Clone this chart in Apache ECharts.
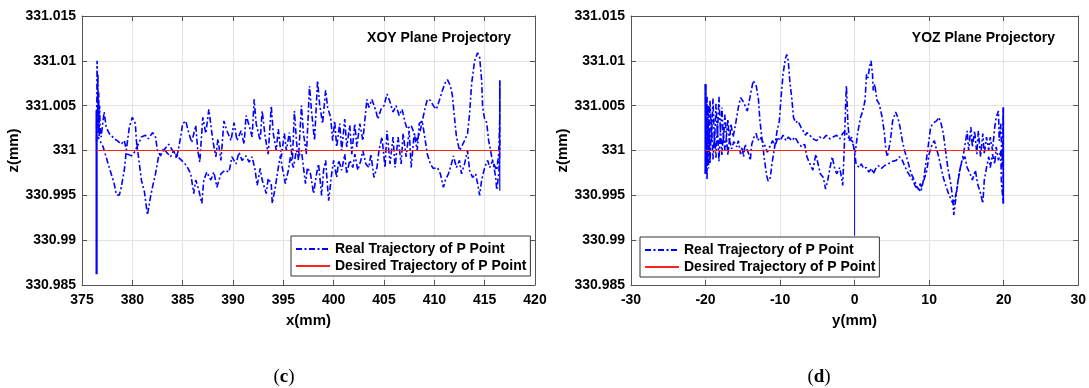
<!DOCTYPE html>
<html><head><meta charset="utf-8">
<script src="https://cdn.jsdelivr.net/npm/echarts@6/dist/echarts.min.js"></script>
<style>html,body{margin:0;padding:0;background:#fff}#c{width:1089px;height:388px}</style>
</head><body><div id="c"></div>
<script>
// ---------- DATA ----------
const realName = 'Real Trajectory of P Point';
const desiredName = 'Desired Trajectory of P Point';
const panelTitles = ['XOY Plane Projectory', 'YOZ Plane Projectory'];
const panelTags = ['c', 'd'];
const xNames = ['x(mm)', 'y(mm)'];
const zName = 'z(mm)';

// XOY: forward pass (upper band), x in mm, z in mm
const xoyRealA = [[376.45,331.0010],[376.50,331.0100],[376.55,331.0030],[376.58,331.0085],[376.62,331.0020],[376.66,331.0065],[376.70,331.0015],[376.75,331.0050],[376.80,331.0026],[376.90,331.0015],[377.20,331.0043],[377.40,331.0026],[377.70,331.0019],[377.90,331.0017],[378.20,331.0013],[378.50,331.0011],[378.90,331.0007],[379.20,331.0011],[379.50,330.9996],[379.90,330.9994],[380.20,330.9998],[380.60,331.0007],[380.90,331.0015],[381.30,331.0017],[381.60,331.0013],[382.00,331.0020],[382.30,331.0015],[382.50,331.0000],[382.80,330.9994],[383.10,331.0002],[383.40,330.9998],[383.80,330.9993],[384.10,331.0000],[384.40,330.9991],[384.80,331.0015],[385.00,331.0030],[385.30,331.0033],[385.60,331.0020],[385.90,331.0009],[386.30,331.0028],[386.50,331.0000],[386.70,330.9987],[387.00,331.0037],[387.30,331.0019],[387.60,331.0046],[388.00,331.0011],[388.30,330.9993],[388.50,331.0013],[388.80,330.9989],[389.10,331.0033],[389.40,331.0022],[389.80,331.0011],[390.10,331.0031],[390.40,331.0011],[390.80,331.0022],[391.10,331.0007],[391.30,331.0039],[391.60,331.0028],[391.90,331.0015],[392.10,331.0057],[392.30,331.0030],[392.70,331.0011],[392.90,331.0044],[393.20,331.0015],[393.50,330.9996],[393.80,331.0050],[394.00,331.0019],[394.30,331.0000],[394.50,331.0024],[394.80,330.9993],[395.10,331.0019],[395.30,331.0000],[395.60,331.0020],[395.90,330.9989],[396.10,331.0044],[396.30,331.0011],[396.50,330.9989],[396.80,331.0050],[397.00,331.0019],[397.30,330.9996],[397.60,331.0072],[397.80,331.0044],[398.10,331.0011],[398.40,331.0078],[398.60,331.0052],[398.90,331.0030],[399.20,331.0067],[399.40,331.0048],[399.70,331.0037],[399.90,331.0011],[400.10,331.0033],[400.30,331.0004],[400.60,331.0030],[400.80,331.0000],[401.10,331.0035],[401.30,331.0004],[401.60,331.0028],[401.80,330.9996],[402.10,331.0030],[402.30,331.0004],[402.60,331.0030],[402.90,331.0011],[403.30,331.0057],[403.50,331.0048],[403.80,331.0057],[404.20,331.0044],[404.40,331.0035],[404.70,331.0046],[405.00,331.0050],[405.30,331.0063],[405.60,331.0054],[405.90,331.0043],[406.20,331.0050],[406.50,331.0039],[406.80,331.0046],[407.10,331.0031],[407.30,331.0024],[407.70,331.0028],[408.00,331.0019],[408.30,331.0011],[408.60,331.0022],[408.80,331.0033],[409.10,331.0048],[409.30,331.0057],[409.60,331.0056],[409.90,331.0050],[410.20,331.0046],[410.50,331.0056],[410.80,331.0067],[411.10,331.0076],[411.30,331.0079],[411.60,331.0072],[411.80,331.0061],[412.00,331.0037],[412.20,331.0015],[412.50,331.0000],[412.70,331.0004],[413.00,331.0011],[413.30,331.0019],[413.50,331.0041],[413.70,331.0074],[414.00,331.0100],[414.30,331.0109],[414.50,331.0104],[414.70,331.0078],[414.80,331.0048],[415.00,331.0035],[415.20,331.0031],[415.40,331.0011],[415.70,330.9993],[415.90,330.9985],[416.20,330.9978],[416.40,330.9996],[416.50,331.0037],[416.50,331.0078]];
// XOY: return pass (lower band), listed left to right
const xoyRealB = [[376.60,331.0015],[377.10,331.0004],[377.60,330.9985],[377.90,330.9974],[378.20,330.9963],[378.40,330.9951],[378.70,330.9950],[378.90,330.9959],[379.20,330.9978],[379.40,331.0000],[379.70,331.0026],[380.00,331.0037],[380.30,331.0030],[380.40,331.0011],[380.70,330.9985],[380.90,330.9967],[381.20,330.9954],[381.50,330.9928],[381.80,330.9948],[382.00,330.9959],[382.30,330.9974],[382.60,330.9993],[383.10,331.0000],[383.60,331.0007],[384.00,331.0000],[384.40,330.9994],[384.90,330.9989],[385.40,330.9983],[385.80,330.9974],[386.10,330.9952],[386.30,330.9967],[386.60,330.9956],[386.90,330.9941],[387.10,330.9967],[387.40,330.9976],[387.80,330.9967],[388.10,330.9976],[388.40,330.9959],[388.80,330.9974],[389.20,330.9978],[389.60,330.9976],[389.90,330.9993],[390.30,330.9985],[390.60,330.9998],[390.90,330.9989],[391.30,330.9994],[391.60,330.9987],[391.90,330.9993],[392.20,330.9978],[392.40,330.9961],[392.70,330.9980],[392.90,330.9967],[393.30,330.9952],[393.50,330.9969],[393.80,330.9963],[393.90,330.9941],[394.20,330.9959],[394.50,330.9981],[394.70,330.9994],[394.90,330.9981],[395.20,330.9963],[395.50,330.9978],[395.70,330.9993],[396.00,330.9981],[396.30,331.0000],[396.50,330.9993],[396.80,331.0000],[397.00,330.9981],[397.20,330.9963],[397.40,330.9981],[397.70,330.9974],[398.00,330.9952],[398.30,330.9974],[398.50,330.9985],[398.80,330.9950],[399.00,330.9978],[399.20,330.9989],[399.50,330.9944],[399.80,330.9974],[400.00,330.9989],[400.30,330.9970],[400.50,330.9989],[400.80,330.9978],[401.10,330.9996],[401.30,330.9974],[401.60,330.9989],[401.90,330.9981],[402.10,330.9996],[402.40,330.9978],[402.70,330.9989],[402.90,331.0000],[403.20,330.9985],[403.50,330.9981],[403.70,330.9996],[404.00,330.9970],[404.30,330.9981],[404.50,331.0000],[404.80,331.0015],[405.10,330.9981],[405.30,331.0022],[405.60,330.9985],[405.90,331.0015],[406.10,330.9981],[406.40,331.0015],[406.70,330.9985],[406.90,331.0019],[407.20,330.9993],[407.50,331.0022],[407.70,330.9981],[408.00,331.0019],[408.30,331.0000],[408.50,331.0030],[408.80,331.0033],[409.10,331.0011],[409.30,330.9996],[409.60,330.9985],[409.90,330.9980],[410.30,330.9981],[410.60,330.9974],[410.90,330.9959],[411.10,330.9967],[411.40,330.9974],[411.70,330.9985],[411.90,330.9994],[412.20,330.9981],[412.50,330.9989],[412.70,330.9974],[413.00,330.9985],[413.30,331.0000],[413.50,330.9978],[413.80,330.9970],[414.10,330.9974],[414.30,330.9963],[414.50,330.9950],[414.70,330.9967],[415.00,330.9981],[415.30,330.9989],[415.50,330.9981],[415.80,330.9989],[416.10,330.9970],[416.20,330.9956],[416.40,330.9974],[416.50,331.0000]];
const xoySpikeStart = [[376.45,330.9862],[376.45,331.0045]];
const xoySpikeEnd = [[416.50,330.9955],[416.50,331.0078]];
const xoyDesired = [[376.45,331.0],[416.50,331.0]];

// YOZ: upper pass, y in mm, z in mm
const yozRealA = [[-20.0,331.0074],[-19.9,330.9980],[-19.8,331.0060],[-19.7,330.9990],[-19.6,331.0050],[-19.5,330.9995],[-19.4,331.0056],[-19.2,331.0010],[-19.0,331.0058],[-18.8,331.0005],[-18.6,331.0052],[-18.4,331.0015],[-18.2,331.0060],[-18.0,331.0020],[-17.8,331.0048],[-17.6,331.0010],[-17.4,331.0040],[-17.2,331.0015],[-17.0,331.0035],[-16.8,331.0008],[-16.6,331.0030],[-16.3,331.0015],[-16.0,331.0028],[-15.8,331.0030],[-15.6,331.0048],[-15.3,331.0059],[-14.9,331.0054],[-14.4,331.0044],[-14.0,331.0061],[-13.6,331.0078],[-13.2,331.0072],[-12.9,331.0057],[-12.7,331.0033],[-12.4,331.0011],[-12.1,330.9990],[-11.8,330.9972],[-11.6,330.9966],[-11.3,330.9970],[-11.1,330.9985],[-10.8,331.0000],[-10.4,331.0022],[-10.1,331.0033],[-9.9,331.0056],[-9.6,331.0085],[-9.3,331.0102],[-9.1,331.0107],[-8.9,331.0100],[-8.7,331.0078],[-8.4,331.0056],[-8.2,331.0037],[-7.9,331.0031],[-7.6,331.0033],[-7.2,331.0026],[-6.9,331.0022],[-6.6,331.0017],[-6.4,331.0020],[-6.0,331.0017],[-5.6,331.0013],[-5.1,331.0011],[-4.7,331.0015],[-4.2,331.0013],[-3.8,331.0017],[-3.3,331.0013],[-2.9,331.0015],[-2.4,331.0017],[-2.0,331.0013],[-1.6,331.0019],[-1.2,331.0022],[-0.9,331.0015],[-0.4,331.0011],[-0.1,331.0004],[0.1,330.9998],[0.4,331.0019],[0.8,331.0037],[1.1,331.0044],[1.4,331.0056],[1.6,331.0085],[1.8,331.0081],[2.0,331.0093],[2.2,331.0100],[2.4,331.0085],[2.5,331.0067],[2.7,331.0074],[3.0,331.0056],[3.3,331.0052],[3.7,331.0037],[4.0,331.0019],[4.2,331.0000],[4.4,330.9993],[4.8,331.0011],[5.1,331.0033],[5.5,331.0043],[5.8,331.0037],[6.1,331.0026],[6.4,331.0011],[6.7,331.0000],[7.1,330.9989],[7.6,330.9974],[8.0,330.9967],[8.4,330.9959],[8.9,330.9954],[9.3,330.9970],[9.8,331.0000],[10.2,331.0026],[10.6,331.0031],[11.0,331.0033],[11.3,331.0037],[11.6,331.0030],[11.9,331.0019],[12.2,331.0000],[12.5,330.9981],[12.9,330.9963],[13.2,330.9944],[13.3,330.9928],[13.6,330.9948],[13.9,330.9967],[14.2,330.9981],[14.6,330.9996],[14.9,331.0011],[15.1,331.0022],[15.3,331.0000],[15.6,331.0026],[15.8,331.0004],[16.1,331.0022],[16.4,330.9996],[16.6,331.0022],[16.9,330.9993],[17.2,331.0019],[17.4,330.9996],[17.7,331.0015],[18.0,331.0000],[18.2,331.0015],[18.5,331.0000],[18.8,331.0026],[19.0,331.0037],[19.3,331.0044],[19.4,331.0011],[19.6,331.0030],[19.8,330.9981],[19.95,331.0048]];
// YOZ: lower pass, listed left to right
const yozRealB = [[-20.0,330.9974],[-19.9,331.0020],[-19.8,330.9967],[-19.7,331.0030],[-19.6,330.9980],[-19.5,331.0025],[-19.4,330.9985],[-19.2,331.0035],[-19.0,330.9990],[-18.8,331.0020],[-18.6,330.9992],[-18.4,331.0030],[-18.2,330.9988],[-18.0,331.0025],[-17.8,330.9995],[-17.6,331.0020],[-17.4,331.0000],[-17.2,331.0015],[-17.0,330.9995],[-16.8,331.0012],[-16.5,331.0002],[-16.2,331.0010],[-15.8,331.0004],[-15.6,331.0011],[-15.3,330.9996],[-15.1,331.0004],[-14.9,330.9993],[-14.7,331.0007],[-14.4,330.9994],[-14.2,330.9996],[-14.0,330.9989],[-13.8,331.0007],[-13.5,331.0015],[-13.2,331.0019],[-13.0,331.0011],[-12.7,331.0015],[-12.4,331.0011],[-12.1,331.0007],[-11.7,330.9998],[-11.4,331.0004],[-11.0,331.0011],[-10.7,331.0004],[-10.3,331.0015],[-10.0,331.0011],[-9.6,331.0017],[-9.2,331.0011],[-8.9,331.0015],[-8.4,331.0011],[-8.0,331.0015],[-7.6,331.0009],[-7.1,331.0004],[-6.7,331.0007],[-6.4,330.9993],[-6.0,330.9985],[-5.6,330.9978],[-5.2,330.9996],[-4.9,330.9985],[-4.6,330.9974],[-4.2,330.9970],[-3.9,330.9957],[-3.6,330.9967],[-3.3,330.9981],[-3.0,330.9993],[-2.7,330.9981],[-2.4,330.9974],[-2.0,330.9981],[-1.7,330.9967],[-1.6,330.9961],[-1.4,331.0000],[-1.2,331.0052],[-1.1,331.0072],[-0.9,331.0030],[-0.7,331.0011],[-0.4,331.0015],[-0.2,331.0007],[0.0,330.9998],[0.2,330.9985],[0.6,330.9981],[0.9,330.9985],[1.2,330.9980],[1.6,330.9981],[1.9,330.9976],[2.3,330.9980],[2.5,330.9974],[2.9,330.9981],[3.2,330.9983],[3.6,330.9980],[4.0,330.9983],[4.3,330.9984],[4.7,330.9986],[5.1,330.9988],[5.6,330.9989],[6.0,330.9993],[6.4,330.9989],[6.7,330.9983],[7.1,330.9976],[7.4,330.9972],[7.8,330.9967],[8.1,330.9961],[8.5,330.9956],[8.8,330.9963],[9.0,330.9959],[9.3,330.9967],[9.7,330.9978],[10.0,330.9996],[10.4,331.0007],[10.7,331.0011],[10.9,331.0004],[11.2,330.9996],[11.6,330.9981],[11.9,330.9970],[12.3,330.9959],[12.6,330.9952],[13.0,330.9944],[13.3,330.9939],[13.7,330.9956],[14.0,330.9974],[14.4,330.9989],[14.8,330.9993],[15.1,330.9981],[15.5,330.9974],[15.8,330.9967],[16.2,330.9978],[16.5,330.9963],[16.9,330.9952],[17.2,330.9941],[17.4,330.9967],[17.7,330.9981],[18.0,330.9993],[18.2,330.9981],[18.5,330.9996],[18.8,330.9985],[19.0,331.0004],[19.3,330.9989],[19.6,331.0000],[19.7,330.9963],[19.95,330.9941]];
const yozSpikeStart = [[-20.0,330.9974],[-20.0,331.0074]];
const yozSpikeMid = [[0.0,330.9998],[0.0,330.9905]];
const yozSpikeEnd = [[19.95,330.9941],[19.95,331.0048]];
const yozDesired = [[-20.0,331.0],[19.0,331.0]];

// axis ranges / ticks
const zMin = 330.985, zMax = 331.015, zStep = 0.005;
const xoyMin = 375, xoyMax = 420, xoyStep = 5;
const yozMin = -30, yozMax = 30, yozStep = 10;

// ---------- CHART ----------
const FONT = "'Liberation Sans', Arial, sans-serif";
const BLUE = '#0000ff', RED = '#ff2020';
const FRAME = '#555555', GRIDC = '#e2e2e2';
const dashDot = [6, 2.5, 2, 2.5];

const grids = [
  { left: 82, top: 16, width: 453, height: 269 },
  { left: 631, top: 16, width: 448, height: 269 }
];

function mainX(gi, min, max, step, name) {
  return {
    type: 'value', gridIndex: gi, position: 'bottom', min, max, interval: step,
    name, nameLocation: 'middle', nameGap: 28,
    nameTextStyle: { fontFamily: FONT, fontWeight: 'bold', fontSize: 15, color: '#000' },
    axisLine: { show: true, onZero: false, lineStyle: { color: FRAME, width: 1 } },
    axisTick: { show: true, inside: true, length: 5, lineStyle: { color: FRAME } },
    axisLabel: { margin: 8, fontFamily: FONT, fontWeight: 'bold', fontSize: 14, color: '#000' },
    splitLine: { show: true, lineStyle: { color: GRIDC, width: 1 } }
  };
}
function topX(gi, min, max, step) {
  return {
    type: 'value', gridIndex: gi, position: 'top', min, max, interval: step,
    axisLine: { show: true, onZero: false, lineStyle: { color: FRAME, width: 1 } },
    axisTick: { show: true, inside: true, length: 5, lineStyle: { color: FRAME } },
    axisLabel: { show: false }, splitLine: { show: false }
  };
}
function mainY(gi) {
  return {
    type: 'value', gridIndex: gi, position: 'left', min: zMin, max: zMax, interval: zStep,
    name: zName, nameLocation: 'middle', nameGap: 56,
    nameTextStyle: { fontFamily: FONT, fontWeight: 'bold', fontSize: 15, color: '#000' },
    axisLine: { show: true, onZero: false, lineStyle: { color: FRAME, width: 1 } },
    axisTick: { show: true, inside: true, length: 5, lineStyle: { color: FRAME } },
    axisLabel: { margin: 6, fontFamily: FONT, fontWeight: 'bold', fontSize: 14, color: '#000',
      formatter: v => String(parseFloat(v.toFixed(3))) },
    splitLine: { show: true, lineStyle: { color: GRIDC, width: 1 } }
  };
}
function rightY(gi) {
  return {
    type: 'value', gridIndex: gi, position: 'right', min: zMin, max: zMax, interval: zStep,
    axisLine: { show: true, onZero: false, lineStyle: { color: FRAME, width: 1 } },
    axisTick: { show: true, inside: true, length: 5, lineStyle: { color: FRAME } },
    axisLabel: { show: false }, splitLine: { show: false }
  };
}
function line(name, data, xi, yi, color, type, width, z) {
  return { type: 'line', name, data, xAxisIndex: xi, yAxisIndex: yi, symbol: 'none', showSymbol: false,
    animation: false, z: z || 2, clip: true,
    lineStyle: { color, width, type }, itemStyle: { color } };
}

const legendCommon = {
  orient: 'vertical',
  data: [realName, desiredName],
  itemWidth: 34, itemHeight: 14, itemGap: 3,
  padding: [6, 4, 3, 4],
  itemStyle: { opacity: 0, borderWidth: 0 },
  borderColor: '#333', borderWidth: 1, backgroundColor: '#fff',
  textStyle: { fontFamily: FONT, fontWeight: 'bold', fontSize: 14, color: '#000' },
  selectedMode: false
};

const option = {
  backgroundColor: '#fff',
  animation: false,
  grid: grids,
  xAxis: [mainX(0, xoyMin, xoyMax, xoyStep, xNames[0]), topX(0, xoyMin, xoyMax, xoyStep),
          mainX(1, yozMin, yozMax, yozStep, xNames[1]), topX(1, yozMin, yozMax, yozStep)],
  yAxis: [mainY(0), rightY(0), mainY(1), rightY(1)],
  title: [
    { text: panelTitles[0], right: 578, top: 31, textStyle: { fontFamily: FONT, fontWeight: 'bold', fontSize: 14, color: '#000' }, padding: 0 },
    { text: panelTitles[1], right: 34, top: 31, textStyle: { fontFamily: FONT, fontWeight: 'bold', fontSize: 14, color: '#000' }, padding: 0 }
  ],
  legend: [
    Object.assign({ left: 291, top: 236 }, legendCommon),
    Object.assign({ left: 640, top: 237 }, legendCommon)
  ],
  graphic: panelTags.map((t, i) => ({
    type: 'text', x: [284, 819][i], y: 377,
    style: { text: '{p|(}{b|' + t + '}{p|)}', textAlign: 'center', textVerticalAlign: 'middle',
      rich: { p: { fontFamily: "'Liberation Serif', serif", fontSize: 19, fill: '#000' },
              b: { fontFamily: "'Liberation Serif', serif", fontSize: 19, fontWeight: 'bold', fill: '#000' } } }
  })),
  series: [
    line(realName, xoyRealA.concat(xoyRealB.slice().reverse()), 0, 0, BLUE, dashDot, 1.6),
    line(realName, xoySpikeStart, 0, 0, BLUE, 'solid', 2.2),
    line(realName, xoySpikeEnd, 0, 0, BLUE, 'solid', 1.2),
    line(desiredName, xoyDesired, 0, 0, RED, 'solid', 1.2, 3),
    line(realName, yozRealA.concat(yozRealB.slice().reverse()), 2, 2, BLUE, dashDot, 1.6),
    line(realName, yozSpikeStart, 2, 2, BLUE, 'solid', 2.2),
    line(realName, yozSpikeMid, 2, 2, BLUE, 'solid', 1),
    line(realName, yozSpikeEnd, 2, 2, BLUE, 'solid', 1.6),
    line(desiredName, yozDesired, 2, 2, RED, 'solid', 1.2, 3)
  ]
};
const chart = echarts.init(document.getElementById('c'), null, { renderer: 'canvas' });
chart.setOption(option);
</script>
</body></html>
